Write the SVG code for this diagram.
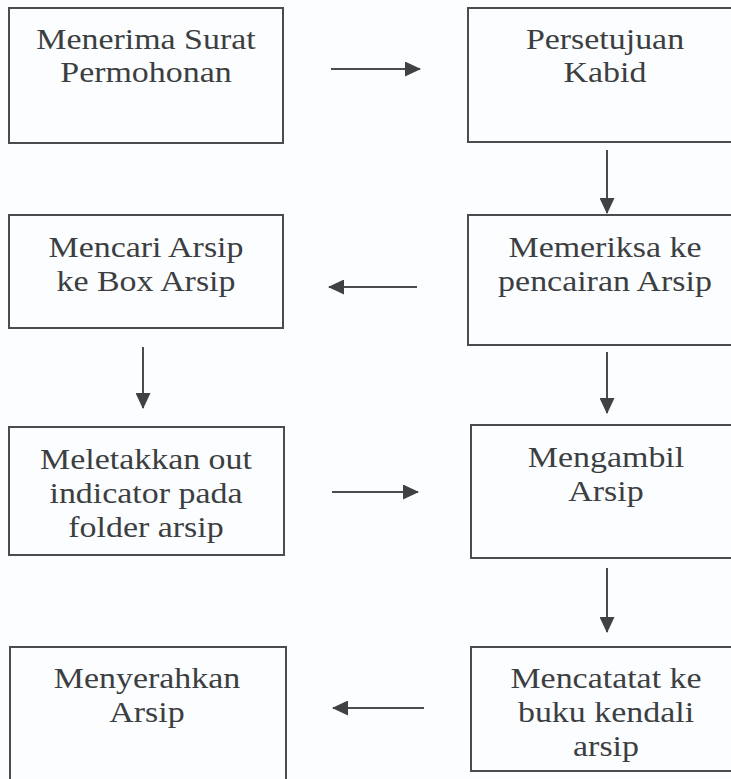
<svg xmlns="http://www.w3.org/2000/svg" width="731" height="779" viewBox="0 0 731 779">
<style>
.box{fill:none;stroke:#4a4d50;stroke-width:2}
.lbl{font-family:'Liberation Serif','Times New Roman','DejaVu Serif',serif;font-size:29px;fill:#3c3f42;text-anchor:middle}
.con{stroke:#4a4d50;stroke-width:2;fill:none;marker-end:url(#ah)}
</style>
<defs>
<marker id="ah" viewBox="0 0 16 15" refX="15" refY="7.5" markerWidth="16" markerHeight="15" markerUnits="userSpaceOnUse" orient="auto">
<path d="M0,0 L16,7.5 L0,15 z" fill="#3f4245"/>
</marker>
</defs>
<rect width="731" height="779" fill="#fcfdfe"/>
<g id="n1"><rect class="box" x="9" y="8" width="274" height="135"/>
<g transform="translate(146,0) scale(1.17,1)"><text class="lbl" font-family="Liberation Serif" x="0" y="49">Menerima Surat</text><text class="lbl" font-family="Liberation Serif" x="0" y="82">Permohonan</text></g></g>
<g id="n2"><rect class="box" x="468" y="8" width="274" height="134"/>
<g transform="translate(605,0) scale(1.17,1)"><text class="lbl" x="0" y="49">Persetujuan</text><text class="lbl" x="0" y="82">Kabid</text></g></g>
<g id="n3"><rect class="box" x="9" y="215" width="274" height="113"/>
<g transform="translate(146,0) scale(1.17,1)"><text class="lbl" x="0" y="257">Mencari Arsip</text><text class="lbl" x="0" y="291">ke Box Arsip</text></g></g>
<g id="n4"><rect class="box" x="468" y="215" width="274" height="130"/>
<g transform="translate(605,0) scale(1.17,1)"><text class="lbl" x="0" y="257">Memeriksa ke</text><text class="lbl" x="0" y="291">pencairan Arsip</text></g></g>
<g id="n5"><rect class="box" x="9" y="427" width="275" height="128"/>
<g transform="translate(146,0) scale(1.17,1)"><text class="lbl" x="0" y="469">Meletakkan out</text><text class="lbl" x="0" y="503">indicator pada</text><text class="lbl" x="0" y="537">folder arsip</text></g></g>
<g id="n6"><rect class="box" x="471" y="425" width="274" height="133"/>
<g transform="translate(606,0) scale(1.17,1)"><text class="lbl" x="0" y="467">Mengambil</text><text class="lbl" x="0" y="501">Arsip</text></g></g>
<g id="n7"><rect class="box" x="10" y="647" width="276" height="145"/>
<g transform="translate(147,0) scale(1.17,1)"><text class="lbl" x="0" y="688">Menyerahkan</text><text class="lbl" x="0" y="722">Arsip</text></g></g>
<g id="n8"><rect class="box" x="471" y="647" width="274" height="124"/>
<g transform="translate(606,0) scale(1.17,1)"><text class="lbl" x="0" y="688">Mencatatat ke</text><text class="lbl" x="0" y="722">buku kendali</text><text class="lbl" x="0" y="756">arsip</text></g></g>
<g id="connectors">
<line class="con" x1="331" y1="69" x2="420" y2="69"/>
<line class="con" x1="607" y1="150" x2="607" y2="213"/>
<line class="con" x1="417" y1="287" x2="329" y2="287"/>
<line class="con" x1="143" y1="347" x2="143" y2="408"/>
<line class="con" x1="607" y1="352" x2="607" y2="413"/>
<line class="con" x1="332" y1="492" x2="418" y2="492"/>
<line class="con" x1="607" y1="568" x2="607" y2="632"/>
<line class="con" x1="424" y1="708" x2="333" y2="708"/>
</g>
</svg>
